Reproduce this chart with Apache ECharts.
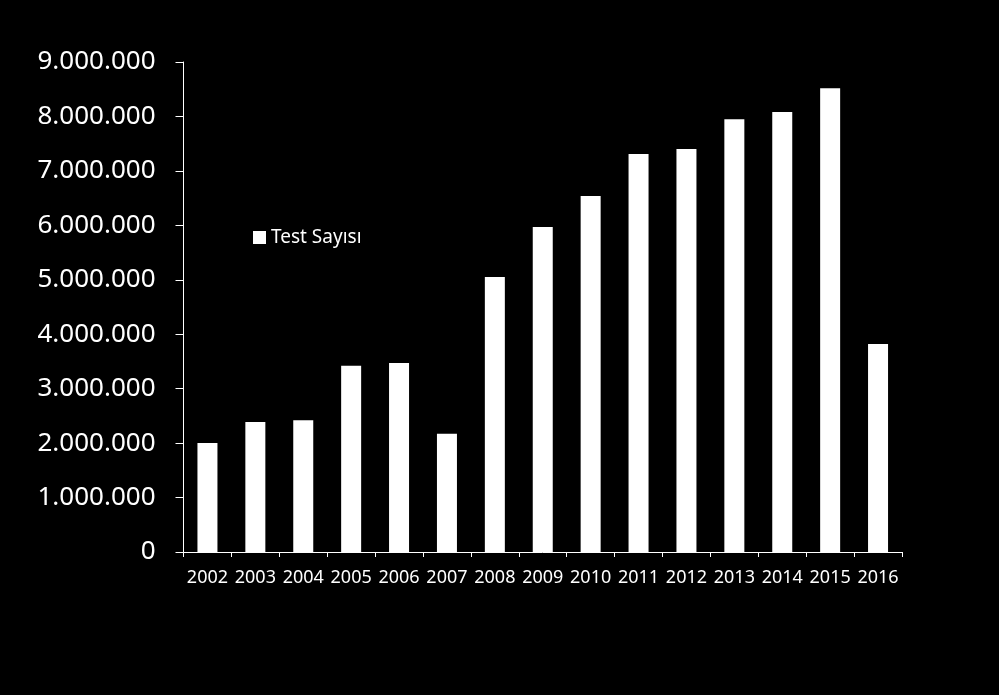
<!DOCTYPE html>
<html><head><meta charset="utf-8">
<script src="https://cdn.jsdelivr.net/npm/echarts@6/dist/echarts.min.js"></script>
<style>html,body{margin:0;padding:0;background:#000;}#c{width:999px;height:695px;}</style>
</head><body><div id="c"></div>
<script>
const categories = ['2002','2003','2004','2005','2006','2007','2008','2009','2010','2011','2012','2013','2014','2015','2016'];
const testSayisi = [2000000, 2390000, 2420000, 3420000, 3470000, 2170000, 5050000, 5970000, 6540000, 7310000, 7400000, 7950000, 8080000, 8520000, 3820000];
const seriesName = 'Test Sayısı';

function fmt(v){ return String(v).replace(/\B(?=(\d{3})+(?!\d))/g, '.'); }

const chart = echarts.init(document.getElementById('c'));
chart.setOption({
  backgroundColor: '#000',
  animation: false,
  textStyle: { fontFamily: 'Noto Sans' },
  grid: { left: 183.5, right: 97, top: 62, bottom: 143, containLabel: false },
  legend: {
    left: 248, top: 223, itemWidth: 13, itemHeight: 13, itemGap: 6,
    icon: 'rect',
    textStyle: { color: '#fff', fontSize: 19, fontFamily: 'Noto Sans' },
    data: [seriesName]
  },
  xAxis: {
    type: 'category', data: categories,
    axisLine: { lineStyle: { color: '#fff', width: 1 } },
    axisTick: { show: true, length: 5, alignWithLabel: false, lineStyle: { color: '#fff' } },
    axisLabel: { color: '#fff', fontSize: 18, margin: 17, interval: 0 }
  },
  yAxis: {
    type: 'value', min: 0, max: 9000000, interval: 1000000,
    axisLine: { show: true, lineStyle: { color: '#fff', width: 1 } },
    axisTick: { show: true, length: 8, lineStyle: { color: '#fff' } },
    splitLine: { show: false },
    axisLabel: { color: '#fff', fontSize: 26, margin: 28, formatter: fmt }
  },
  series: [{
    name: seriesName, type: 'bar', data: testSayisi,
    barWidth: 20,
    itemStyle: { color: '#fff' }
  }]
});
</script></body></html>
